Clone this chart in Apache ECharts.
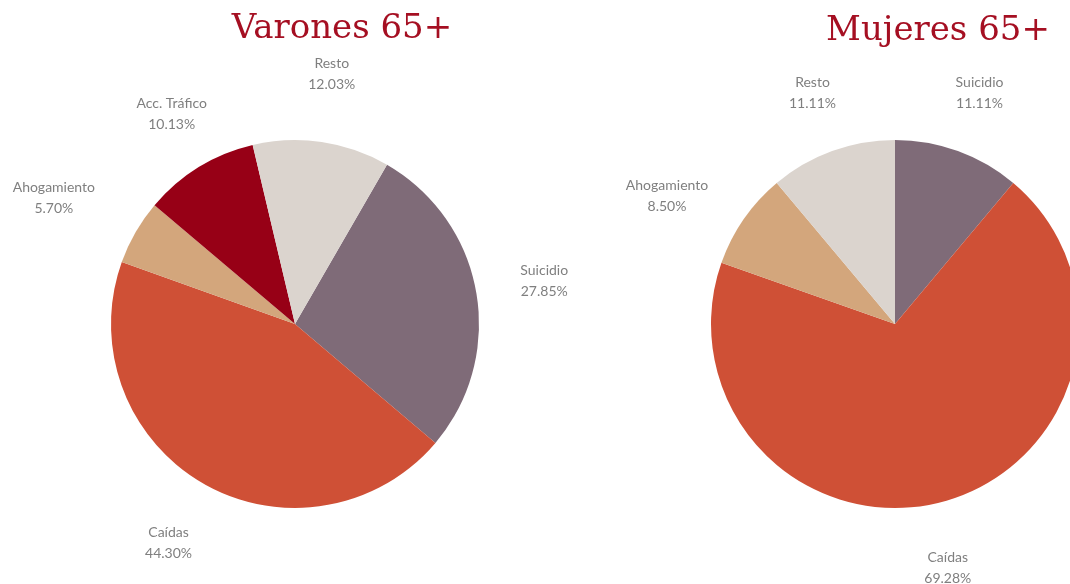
<!DOCTYPE html>
<html>
<head>
<meta charset="utf-8">
<script src="https://cdn.jsdelivr.net/npm/echarts@6/dist/echarts.min.js"></script>
<style>
  html, body { margin: 0; padding: 0; background: #fff; }
  #chart { width: 1070px; height: 584px; }
</style>
</head>
<body>
<div id="chart"></div>
<script>
// datos de los dos graficos de sectores
const categoriasVarones = ["Suicidio", "Caídas", "Ahogamiento", "Acc. Tráfico", "Resto"];
const valoresVarones = [27.85, 44.30, 5.70, 10.13, 12.03];

const categoriasMujeres = ["Suicidio", "Caídas", "Ahogamiento", "Resto"];
const valoresMujeres = [11.11, 69.28, 8.50, 11.11];

const colores = {
  "Suicidio": "#7f6b78",
  "Caídas": "#cf5036",
  "Ahogamiento": "#d3a67c",
  "Acc. Tráfico": "#970016",
  "Resto": "#dbd4ce"
};

// pequeños ajustes de posicion de etiquetas (como hace Excel)
const ajusteVarones = {
  "Ahogamiento": [-22, 0],
  "Acc. Tráfico": [9, 6]
};
const ajusteMujeres = {
  "Resto": [4, 7],
  "Suicidio": [-2, 7],
  "Ahogamiento": [-20, 16],
  "Caídas": [-14, 0]
};

const chart = echarts.init(document.getElementById("chart"));

function buildData(cats, vals, transparent, ajuste) {
  return cats.map((c, i) => {
    let d = {
      name: c,
      value: vals[i],
      itemStyle: { color: transparent ? "rgba(0,0,0,0)" : colores[c] }
    };
    if (ajuste && ajuste[c]) {
      d.label = { offset: ajuste[c] };
    }
    return d;
  });
}

// sector visible
function pieSerie(cats, vals, center, startAngle) {
  return {
    type: "pie",
    center: center,
    radius: [0, 184],
    startAngle: startAngle,
    clockwise: true,
    silent: true,
    label: { show: false },
    labelLine: { show: false },
    emphasis: { disabled: true },
    data: buildData(cats, vals, false)
  };
}

// anillo invisible solo para colocar las etiquetas fuera del sector
function labelSerie(cats, vals, center, startAngle, ajuste) {
  return {
    type: "pie",
    center: center,
    radius: [238, 262],
    startAngle: startAngle,
    clockwise: true,
    silent: true,
    labelLine: { show: false },
    emphasis: { disabled: true },
    label: {
      show: true,
      position: "inside",
      formatter: p => p.name + "\n" + p.value.toFixed(2) + "%",
      color: "#7f7f7f",
      fontFamily: "Lato",
      fontSize: 14,
      lineHeight: 21,
      align: "center"
    },
    data: buildData(cats, vals, true, ajuste)
  };
}

const option = {
  animation: false,
  backgroundColor: "#fff",
  title: [
    {
      text: "Varones 65+",
      left: 337,
      textAlign: "center",
      top: 7,
      textStyle: { color: "#a50f22", fontFamily: "DejaVu Serif", fontSize: 34, fontWeight: "normal" }
    },
    {
      text: "Mujeres 65+",
      left: 933,
      textAlign: "center",
      top: 9,
      textStyle: { color: "#a50f22", fontFamily: "DejaVu Serif", fontSize: 34, fontWeight: "normal" }
    }
  ],
  series: [
    pieSerie(categoriasVarones, valoresVarones, [295, 324], 60),
    labelSerie(categoriasVarones, valoresVarones, [295, 324], 60, ajusteVarones),
    pieSerie(categoriasMujeres, valoresMujeres, [895, 324], 90),
    labelSerie(categoriasMujeres, valoresMujeres, [895, 324], 90, ajusteMujeres)
  ]
};

chart.setOption(option);
</script>
</body>
</html>
